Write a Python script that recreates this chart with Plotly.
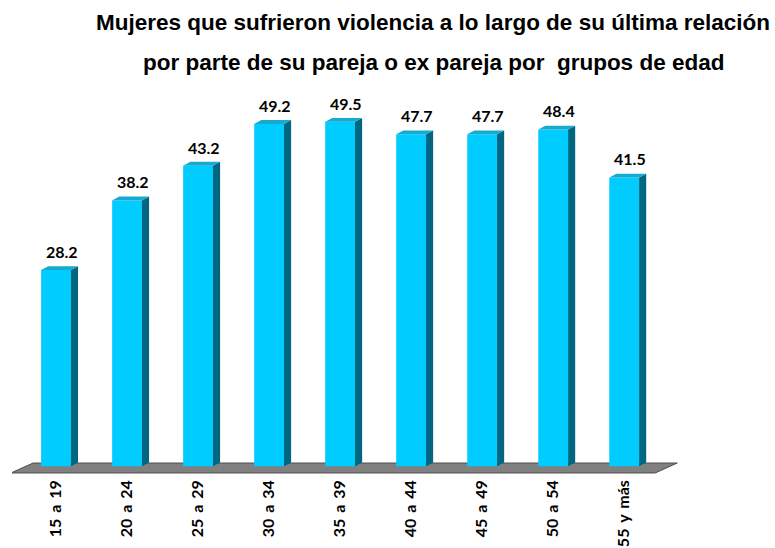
import plotly.graph_objects as go

# grupos de edad y porcentajes
grupos = ["15 a 19", "20 a 24", "25 a 29", "30 a 34", "35 a 39",
          "40 a 44", "45 a 49", "50 a 54", "55 y más"]
porcentajes = [28.2, 38.2, 43.2, 49.2, 49.5, 47.7, 47.7, 48.4, 41.5]

pos = list(range(len(grupos)))
ancho = 0.42      # front face width (axis units)
dx, dy = 0.10, 0.55  # 3d depth offset

FRONT = "#00CCFF"
SIDE = "#006681"
TOP = "#17A9CF"

# side and top faces built from the values
side_x, side_y, top_x, top_y = [], [], [], []
for c, v in zip(pos, porcentajes):
    r = c + ancho / 2
    l = c - ancho / 2
    side_x += [r, r + dx, r + dx, r, r, None]
    side_y += [0, dy, v + dy, v, 0, None]
    top_x += [l, l + dx, r + dx, r, l, None]
    top_y += [v, v + dy, v + dy, v, v, None]

fig = go.Figure()

fig.add_trace(go.Bar(
    x=pos, y=porcentajes, width=ancho,
    marker=dict(color=FRONT, line=dict(width=0)),
    hoverinfo="skip",
))
fig.add_trace(go.Scatter(
    x=side_x, y=side_y, mode="lines", fill="toself",
    fillcolor=SIDE, line=dict(width=0, color=SIDE), hoverinfo="skip",
))
fig.add_trace(go.Scatter(
    x=top_x, y=top_y, mode="lines", fill="toself",
    fillcolor=TOP, line=dict(width=0, color=TOP), hoverinfo="skip",
))
fig.add_trace(go.Scatter(
    x=[c + 0.08 for c in pos], y=[v + 2.3 for v in porcentajes],
    mode="text", text=[f"{v:.1f}" for v in porcentajes],
    textposition="middle center",
    textfont=dict(family="Lato", size=16, color="black", weight="bold"),
    hoverinfo="skip",
))

# floor
n = len(grupos)
x0f, x1f = -0.634, n - 1 + 0.437
depth_x, y_front, y_back = 0.31, -0.96, 0.47
fig.add_shape(
    type="path", xref="x", yref="y", layer="below",
    path=f"M {x0f},{y_front} L {x1f},{y_front} L {x1f + depth_x},{y_back} "
         f"L {x0f + depth_x},{y_back} Z",
    fillcolor="#808080", line=dict(color="#4d4d4d", width=1),
)

titulo_font = dict(family="Liberation Sans", size=22.5, color="black", weight="bold")
fig.add_annotation(text="Mujeres que sufrieron violencia a lo largo de su última relación",
                   xref="paper", yref="paper", x=0.630, y=1.176,
                   xanchor="center", yanchor="middle", showarrow=False, font=titulo_font)
fig.add_annotation(text="por parte de su pareja o ex pareja por  grupos de edad",
                   xref="paper", yref="paper", x=0.630, y=1.0725,
                   xanchor="center", yanchor="middle", showarrow=False, font=titulo_font)

etiquetas = [g.replace(" ", " \u2009") for g in grupos]

fig.update_layout(
    width=775, height=548,
    margin=dict(l=12, r=94, t=90, b=72),
    plot_bgcolor="white", paper_bgcolor="white",
    showlegend=False,
    xaxis=dict(range=[-0.62, 8.80], tickvals=pos, ticktext=etiquetas,
               tickangle=-90, showgrid=False, zeroline=False, showline=False,
               ticks="", fixedrange=True, automargin=False,
               tickfont=dict(family="Lato", size=16, color="black", weight="bold")),
    yaxis=dict(range=[-1.394, 54.07], showgrid=False, zeroline=False,
               showline=False, showticklabels=False, ticks="", automargin=False),
)

fig.write_html("out.html", config={"displayModeBar": False},
               post_script="document.body.style.margin='0';"
                           "document.body.style.overflow='hidden';")
